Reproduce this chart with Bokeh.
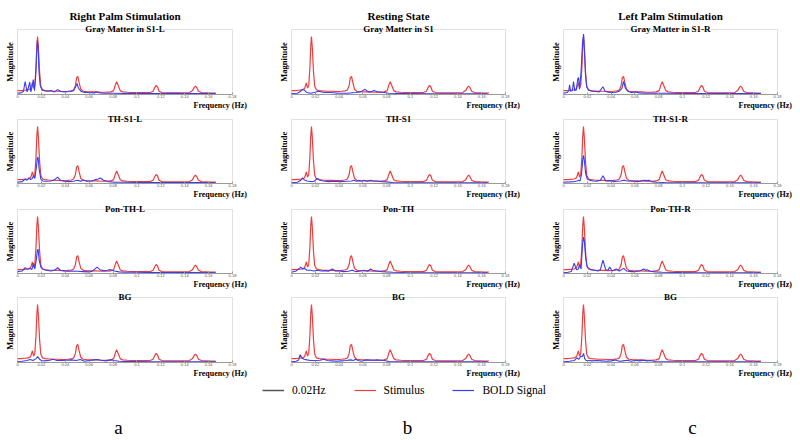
import math
import numpy as np
from bokeh.plotting import figure
from bokeh.layouts import column, row
from bokeh.models import (Range1d, Label, FixedTicker, Legend, LegendItem,
                          CustomJSTickFormatter, BoxAnnotation, Title)
from bokeh.embed import file_html
from bokeh.resources import INLINE

# ---------------- data ----------------
FREQ_TICKS = [0.0, 0.02, 0.04, 0.06, 0.08, 0.10, 0.12, 0.14, 0.16, 0.18]
FREQ_TICK_LABELS = ["0", "0.02", "0.04", "0.06", "0.08", "0.1", "0.12", "0.14", "0.16", "0.18"]
COLUMN_TITLES = ["Right Palm Stimulation", "Resting State", "Left Palm Stimulation"]
PANEL_TITLES = [
    ["Gray Matter in S1-L", "Gray Matter in S1", "Gray Matter in S1-R"],
    ["TH-S1-L", "TH-S1", "TH-S1-R"],
    ["Pon-TH-L", "Pon-TH", "Pon-TH-R"],
    ["BG", "BG", "BG"],
]
COLUMN_LETTERS = ["a", "b", "c"]
LEGEND_LABELS = ["0.02Hz", "Stimulus", "BOLD Signal"]

# Stimulus spectrum (same in every panel)
STIM_F = [0.000, 0.003, 0.006, 0.009, 0.011, 0.0125, 0.0135, 0.0145, 0.0155, 0.0162,
          0.0168, 0.0175, 0.0185, 0.0195, 0.021, 0.023, 0.026, 0.030, 0.034, 0.038,
          0.042, 0.045, 0.047, 0.0485, 0.0495, 0.0505, 0.0515, 0.053, 0.055, 0.058,
          0.062, 0.066, 0.070, 0.074, 0.078, 0.0805, 0.082, 0.083, 0.0845, 0.086,
          0.088, 0.092, 0.097, 0.102, 0.107, 0.111, 0.1135, 0.115, 0.116, 0.1172,
          0.1185, 0.121, 0.125, 0.130, 0.135, 0.140, 0.144, 0.1465, 0.148, 0.149,
          0.150, 0.1515, 0.154, 0.158, 0.162, 0.166]
STIM_Y = [0.06, 0.06, 0.065, 0.07, 0.09, 0.18, 0.10, 0.14, 0.42, 0.75,
          0.89, 0.72, 0.35, 0.13, 0.07, 0.06, 0.055, 0.05, 0.05, 0.045,
          0.05, 0.055, 0.07, 0.14, 0.26, 0.28, 0.19, 0.08, 0.05, 0.045,
          0.04, 0.04, 0.035, 0.035, 0.04, 0.06, 0.15, 0.195, 0.13, 0.06,
          0.04, 0.035, 0.03, 0.03, 0.03, 0.03, 0.05, 0.11, 0.14, 0.12,
          0.05, 0.03, 0.025, 0.025, 0.025, 0.025, 0.03, 0.06, 0.11, 0.13,
          0.11, 0.05, 0.03, 0.025, 0.02, 0.02]

# BOLD spectra, one per panel (row, column)
A1_F = [0.000, 0.003, 0.005, 0.0064, 0.008, 0.0090, 0.0102, 0.0112, 0.0122, 0.0132,
        0.0142, 0.0152, 0.0160, 0.0166, 0.0172, 0.0180, 0.0190, 0.0205, 0.0225, 0.025,
        0.028, 0.031, 0.0335, 0.036, 0.040, 0.044, 0.047, 0.0485, 0.0498, 0.051,
        0.053, 0.056, 0.060, 0.064, 0.0666, 0.069, 0.073, 0.080, 0.090, 0.100,
        0.110, 0.120, 0.130, 0.140, 0.150, 0.166]
A1_Y = [0.02, 0.025, 0.05, 0.20, 0.04, 0.10, 0.19, 0.04, 0.12, 0.23,
        0.06, 0.28, 0.62, 0.83, 0.75, 0.35, 0.14, 0.07, 0.06, 0.05,
        0.06, 0.04, 0.075, 0.05, 0.04, 0.045, 0.06, 0.11, 0.17, 0.10,
        0.05, 0.03, 0.03, 0.025, 0.04, 0.025, 0.02, 0.02, 0.015, 0.02,
        0.015, 0.015, 0.02, 0.015, 0.015, 0.015]

A2_F = [0.000, 0.004, 0.0064, 0.008, 0.0095, 0.011, 0.0125, 0.0134, 0.0145, 0.0158,
        0.0166, 0.0172, 0.0182, 0.0195, 0.021, 0.024, 0.028, 0.031, 0.0336, 0.036,
        0.039, 0.043, 0.047, 0.050, 0.053, 0.055, 0.058, 0.062, 0.065, 0.0675,
        0.0694, 0.072, 0.076, 0.082, 0.090, 0.100, 0.110, 0.120, 0.135, 0.150, 0.166]
A2_Y = [0.02, 0.03, 0.07, 0.05, 0.09, 0.06, 0.08, 0.12, 0.08, 0.25,
        0.40, 0.41, 0.22, 0.07, 0.04, 0.035, 0.04, 0.06, 0.10, 0.05,
        0.035, 0.03, 0.035, 0.05, 0.035, 0.055, 0.035, 0.04, 0.06, 0.07,
        0.085, 0.05, 0.03, 0.02, 0.02, 0.015, 0.015, 0.015, 0.015, 0.015, 0.01]

A3_F = [0.000, 0.004, 0.0064, 0.0085, 0.0106, 0.012, 0.0134, 0.0145, 0.0158, 0.0166,
        0.0172, 0.0182, 0.0196, 0.021, 0.024, 0.028, 0.031, 0.0336, 0.036, 0.040,
        0.045, 0.050, 0.055, 0.060, 0.063, 0.0666, 0.069, 0.072, 0.075, 0.078,
        0.081, 0.085, 0.090, 0.100, 0.110, 0.120, 0.135, 0.150, 0.166]
A3_Y = [0.03, 0.04, 0.09, 0.07, 0.08, 0.06, 0.16, 0.07, 0.22, 0.36,
        0.38, 0.20, 0.10, 0.07, 0.05, 0.04, 0.05, 0.09, 0.05, 0.035,
        0.04, 0.035, 0.03, 0.025, 0.04, 0.10, 0.06, 0.045, 0.05, 0.06,
        0.04, 0.025, 0.02, 0.02, 0.015, 0.015, 0.015, 0.015, 0.01]

A4_F = [0.000, 0.004, 0.008, 0.0106, 0.013, 0.0155, 0.0170, 0.0185, 0.020, 0.023,
        0.027, 0.030, 0.033, 0.037, 0.041, 0.045, 0.049, 0.0526, 0.056, 0.060,
        0.064, 0.0666, 0.070, 0.074, 0.078, 0.081, 0.085, 0.090, 0.100, 0.110,
        0.120, 0.135, 0.150, 0.166]
A4_Y = [0.015, 0.02, 0.03, 0.045, 0.03, 0.06, 0.09, 0.05, 0.03, 0.025,
        0.035, 0.05, 0.03, 0.03, 0.035, 0.04, 0.03, 0.045, 0.02, 0.03,
        0.04, 0.045, 0.035, 0.025, 0.04, 0.03, 0.02, 0.015, 0.015, 0.01,
        0.01, 0.01, 0.01, 0.01]

B1_F = [0.000, 0.005, 0.0078, 0.0092, 0.0106, 0.0129, 0.0162, 0.019, 0.0232, 0.0274,
        0.033, 0.0386, 0.047, 0.054, 0.0582, 0.0619, 0.0644, 0.0666, 0.0694, 0.0728,
        0.0778, 0.082, 0.090, 0.100, 0.115, 0.130, 0.150, 0.165]
B1_Y = [0.015, 0.02, 0.05, 0.08, 0.07, 0.03, 0.02, 0.03, 0.05, 0.03,
        0.03, 0.02, 0.02, 0.03, 0.04, 0.08, 0.04, 0.04, 0.06, 0.04,
        0.03, 0.02, 0.015, 0.015, 0.01, 0.01, 0.01, 0.01]

B2_F = [0.000, 0.005, 0.0078, 0.0092, 0.0106, 0.013, 0.016, 0.019, 0.0218, 0.024,
        0.027, 0.031, 0.036, 0.041, 0.046, 0.0505, 0.0526, 0.0545, 0.0568, 0.059,
        0.061, 0.0635, 0.0666, 0.069, 0.072, 0.076, 0.080, 0.085, 0.095, 0.110,
        0.130, 0.150, 0.165]
B2_Y = [0.01, 0.02, 0.05, 0.09, 0.06, 0.04, 0.03, 0.035, 0.08, 0.05,
        0.04, 0.03, 0.035, 0.03, 0.035, 0.04, 0.05, 0.035, 0.045, 0.035,
        0.05, 0.035, 0.05, 0.04, 0.04, 0.03, 0.025, 0.015, 0.01, 0.01,
        0.01, 0.01, 0.01]

B3_F = [0.000, 0.004, 0.0078, 0.0095, 0.011, 0.013, 0.016, 0.019, 0.022, 0.025,
        0.028, 0.031, 0.0344, 0.037, 0.040, 0.044, 0.048, 0.051, 0.054, 0.057,
        0.061, 0.064, 0.0666, 0.069, 0.072, 0.076, 0.080, 0.085, 0.095, 0.110,
        0.130, 0.150, 0.165]
B3_Y = [0.02, 0.04, 0.10, 0.07, 0.08, 0.05, 0.05, 0.04, 0.05, 0.04,
        0.045, 0.035, 0.07, 0.04, 0.04, 0.03, 0.035, 0.05, 0.03, 0.035,
        0.05, 0.035, 0.07, 0.045, 0.04, 0.03, 0.025, 0.02, 0.015, 0.01,
        0.01, 0.01, 0.01]

B4_F = [0.000, 0.004, 0.006, 0.0073, 0.0088, 0.0105, 0.013, 0.016, 0.020, 0.024,
        0.0274, 0.030, 0.034, 0.038, 0.042, 0.046, 0.0498, 0.052, 0.054, 0.056,
        0.059, 0.0624, 0.065, 0.068, 0.072, 0.075, 0.078, 0.082, 0.090, 0.105,
        0.125, 0.145, 0.165]
B4_Y = [0.01, 0.02, 0.04, 0.12, 0.07, 0.05, 0.04, 0.03, 0.03, 0.035,
        0.05, 0.03, 0.025, 0.02, 0.025, 0.03, 0.04, 0.03, 0.05, 0.03,
        0.02, 0.04, 0.035, 0.035, 0.04, 0.035, 0.03, 0.015, 0.01, 0.01,
        0.01, 0.01, 0.01]

C1_F = [0.000, 0.003, 0.0045, 0.0051, 0.006, 0.0075, 0.0084, 0.0095, 0.0108, 0.0120,
        0.0127, 0.0135, 0.0148, 0.0160, 0.0169, 0.0176, 0.0185, 0.0195, 0.021, 0.024,
        0.027, 0.030, 0.0332, 0.035, 0.038, 0.041, 0.044, 0.047, 0.049, 0.0506,
        0.052, 0.054, 0.057, 0.0605, 0.064, 0.068, 0.075, 0.085, 0.100, 0.115,
        0.130, 0.150, 0.166]
C1_Y = [0.02, 0.03, 0.06, 0.15, 0.05, 0.06, 0.20, 0.06, 0.07, 0.24,
        0.26, 0.08, 0.35, 0.80, 0.93, 0.70, 0.30, 0.12, 0.07, 0.05,
        0.045, 0.04, 0.12, 0.05, 0.035, 0.03, 0.035, 0.05, 0.09, 0.20,
        0.10, 0.05, 0.03, 0.04, 0.025, 0.02, 0.02, 0.02, 0.015, 0.015,
        0.015, 0.015, 0.015]

C2_F = [0.000, 0.005, 0.009, 0.0115, 0.0127, 0.0140, 0.0152, 0.0162, 0.0169, 0.0176,
        0.0186, 0.020, 0.022, 0.025, 0.028, 0.031, 0.0332, 0.0355, 0.039, 0.042,
        0.045, 0.048, 0.0506, 0.054, 0.058, 0.062, 0.0647, 0.0675, 0.0695, 0.0717,
        0.074, 0.078, 0.085, 0.095, 0.110, 0.130, 0.150, 0.166]
C2_Y = [0.02, 0.025, 0.03, 0.04, 0.05, 0.04, 0.15, 0.38, 0.44, 0.35,
        0.16, 0.07, 0.05, 0.04, 0.035, 0.05, 0.12, 0.04, 0.045, 0.03,
        0.035, 0.04, 0.05, 0.04, 0.035, 0.03, 0.035, 0.05, 0.045, 0.05,
        0.03, 0.02, 0.015, 0.01, 0.01, 0.01, 0.01, 0.01]

C3_F = [0.000, 0.004, 0.0065, 0.009, 0.011, 0.0125, 0.0135, 0.0148, 0.0160, 0.0169,
        0.0176, 0.0186, 0.020, 0.023, 0.026, 0.029, 0.031, 0.0332, 0.0355, 0.0375,
        0.0388, 0.041, 0.0444, 0.047, 0.0506, 0.053, 0.057, 0.0605, 0.064, 0.0675,
        0.0690, 0.0703, 0.073, 0.077, 0.083, 0.095, 0.110, 0.130, 0.150, 0.166]
C3_Y = [0.01, 0.02, 0.03, 0.16, 0.06, 0.07, 0.14, 0.07, 0.45, 0.57,
        0.50, 0.25, 0.10, 0.06, 0.05, 0.04, 0.06, 0.21, 0.06, 0.05,
        0.10, 0.04, 0.07, 0.04, 0.08, 0.04, 0.03, 0.03, 0.04, 0.07,
        0.05, 0.06, 0.035, 0.025, 0.02, 0.015, 0.01, 0.01, 0.01, 0.01]

C4_F = [0.000, 0.005, 0.009, 0.0113, 0.013, 0.0146, 0.0158, 0.0169, 0.0178, 0.019,
        0.021, 0.024, 0.028, 0.032, 0.036, 0.040, 0.0436, 0.047, 0.050, 0.0534,
        0.057, 0.0605, 0.064, 0.0675, 0.070, 0.073, 0.077, 0.082, 0.090, 0.105,
        0.125, 0.145, 0.166]
C4_Y = [0.01, 0.02, 0.03, 0.07, 0.05, 0.10, 0.09, 0.14, 0.06, 0.03,
        0.03, 0.025, 0.03, 0.025, 0.02, 0.025, 0.04, 0.02, 0.025, 0.035,
        0.02, 0.035, 0.025, 0.035, 0.025, 0.03, 0.015, 0.01, 0.01, 0.01,
        0.01, 0.01, 0.01]

BOLD = [
    [(A1_F, A1_Y), (B1_F, B1_Y), (C1_F, C1_Y)],
    [(A2_F, A2_Y), (B2_F, B2_Y), (C2_F, C2_Y)],
    [(A3_F, A3_Y), (B3_F, B3_Y), (C3_F, C3_Y)],
    [(A4_F, A4_Y), (B4_F, B4_Y), (C4_F, C4_Y)],
]

# ---------------- styling / layout ----------------
SERIF = "Liberation Serif"
RED = "#ee3d3d"
BLUE = "#3b3bf0"
FRAME = "#9a9a9a"
SCALE_COLOR = "#555555"

X_MIN, X_MAX = 0.0, 0.18
COL_W = [270, 260, 270]          # figure widths
COL_L = [17, 21, 33]             # px from figure left to box left
COL_R = [38, 25, 23]             # px from box right to figure right
ROW_H = [111, 89, 90, 90]        # figure heights
ROW_T = [29, 8, 9, 7]            # px from figure top to box top
ROW_B = [17, 17, 17, 18]         # px below box bottom (axis + label)
BOTTOM_H = 440 - sum(ROW_H)

FMT_CODE = """
for (let i = 0; i < tick_values.length; i++) {
  if (Math.abs(tick_values[i] - tick) < 1e-9) { return tick_labels[i]; }
}
return "";
"""


def make_panel(r, c):
    W, H = COL_W[c], ROW_H[r]
    L, R, T, B = COL_L[c], COL_R[c], ROW_T[r], ROW_B[r]
    s = (X_MAX - X_MIN) / (W - L - R)
    hb = H - B - T
    x_range = Range1d(X_MIN - L * s, X_MAX + R * s)
    y_range = Range1d(0, 1 + T / hb)

    p = figure(width=W, height=H, x_range=x_range, y_range=y_range,
               toolbar_location=None, output_backend="svg",
               y_axis_location=None,
               min_border_left=0, min_border_right=0,
               min_border_top=0, min_border_bottom=B,
               background_fill_color="white", border_fill_color="white")
    p.outline_line_color = None
    p.grid.visible = False

    ax = p.xaxis[0]
    ax.bounds = (X_MIN, X_MAX)
    ax.ticker = FixedTicker(ticks=FREQ_TICKS, minor_ticks=[])
    ax.formatter = CustomJSTickFormatter(
        args=dict(tick_values=FREQ_TICKS, tick_labels=FREQ_TICK_LABELS), code=FMT_CODE)
    ax.axis_line_color = FRAME
    ax.major_tick_line_color = FRAME
    ax.major_tick_in = 2
    ax.major_tick_out = 0
    ax.minor_tick_line_color = None
    ax.major_label_standoff = 0
    ax.major_label_text_font = "Liberation Sans"
    ax.major_label_text_font_size = "4px"
    ax.major_label_text_color = "#555555"

    # MATLAB-like box around the axes area
    p.add_layout(BoxAnnotation(left=X_MIN, right=X_MAX, bottom=0, top=1,
                               fill_alpha=0, line_color=FRAME, line_width=1))

    p.line(STIM_F, STIM_Y, line_color=RED, line_width=1.2)
    bf, by = BOLD[r][c]
    p.line(bf, by, line_color=BLUE, line_width=1.1)

    p.add_layout(Label(x=(X_MIN + X_MAX) / 2, y=1.0, y_offset=1, text=PANEL_TITLES[r][c],
                       text_align="center", text_baseline="alphabetic",
                       text_font=SERIF, text_font_style="bold",
                       text_font_size="9px", text_color="black"))
    if r == 0:
        p.add_layout(Label(x=(X_MIN + X_MAX) / 2, y=1.0, y_offset=14, text=COLUMN_TITLES[c],
                           text_align="center", text_baseline="alphabetic",
                           text_font=SERIF, text_font_style="bold",
                           text_font_size="11px", text_color="black"))
    p.add_layout(Label(x=X_MIN, y=0.5, x_offset=-7.5, angle=math.pi / 2,
                       text="Magnitude", text_align="center",
                       text_baseline="middle", text_font=SERIF,
                       text_font_style="bold", text_font_size="8.5px",
                       text_color="black"))
    p.add_layout(Title(text="Frequency (Hz)", align="left", offset=W - R - 39,
                       standoff=0, vertical_align="top", text_font=SERIF,
                       text_font_style="bold", text_font_size="8px",
                       text_color="black"), "below")
    return p


rows = []
for r in range(4):
    rows.append(row(*[make_panel(r, c) for c in range(3)], spacing=0))

# bottom strip: legend + column letters
total_w = sum(COL_W)
strip = figure(width=total_w, height=BOTTOM_H, x_range=Range1d(0, total_w),
               y_range=Range1d(0, BOTTOM_H), toolbar_location=None,
               output_backend="svg", x_axis_location=None, y_axis_location=None,
               min_border_left=0, min_border_right=0, min_border_top=0,
               min_border_bottom=0, outline_line_color=None,
               background_fill_color="white", border_fill_color="white")
strip.grid.visible = False
nan = np.array([np.nan])
r_scale = strip.line(x=nan, y=nan, line_color=SCALE_COLOR, line_width=1.5)
r_stim = strip.line(x=nan, y=nan, line_color=RED, line_width=1.2)
r_bold = strip.line(x=nan, y=nan, line_color=BLUE, line_width=1.2)
legend = Legend(items=[LegendItem(label=LEGEND_LABELS[0], renderers=[r_scale]),
                       LegendItem(label=LEGEND_LABELS[1], renderers=[r_stim]),
                       LegendItem(label=LEGEND_LABELS[2], renderers=[r_bold])],
                orientation="horizontal", location=(262, BOTTOM_H - 10 - 7),
                glyph_width=22, glyph_height=14, label_height=14,
                label_standoff=8, spacing=28, padding=0, margin=0,
                border_line_color=None, background_fill_alpha=0,
                label_text_font=SERIF, label_text_font_size="11.5px",
                label_text_color="black")
strip.add_layout(legend)

LETTER_X = [118, 407, 692]
for letter, lx in zip(COLUMN_LETTERS, LETTER_X):
    strip.add_layout(Label(x=lx, y=13, text=letter, text_align="center",
                           text_baseline="alphabetic", text_font=SERIF,
                           text_font_size="19px", text_color="black"))

layout = column(*rows, strip, spacing=0)

with open("out.html", "w") as f:
    f.write(file_html(layout, INLINE))
